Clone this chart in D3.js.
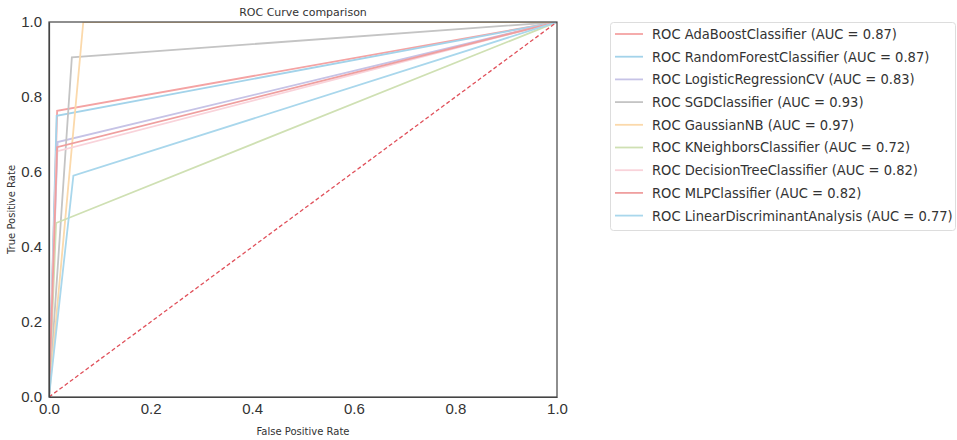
<!DOCTYPE html>
<html>
<head>
<meta charset="utf-8">
<script src="https://cdn.jsdelivr.net/npm/d3@7"></script>
<style>
  body { margin: 0; background: #fff; }
  svg { font-family: "DejaVu Sans", sans-serif; }
  .tick text { fill: #333; font-size: 15px; }
  .tick line { display: none; }
  .domain { stroke: #444; stroke-width: 1.2; }
</style>
</head>
<body>
<div id="chart"></div>
<script>
// model names, AUC values and the single ROC operating point of each model
var models = ['AdaBoostClassifier', 'RandomForestClassifier', 'LogisticRegressionCV', 'SGDClassifier',
              'GaussianNB', 'KNeighborsClassifier', 'DecisionTreeClassifier', 'MLPClassifier', 'LinearDiscriminantAnalysis'];
var auc = [0.87, 0.87, 0.83, 0.93, 0.97, 0.72, 0.82, 0.82, 0.77];
var fpr = [0.016, 0.015, 0.017, 0.045, 0.0675, 0.014, 0.015, 0.016, 0.048];
var tpr = [0.763, 0.75, 0.68, 0.906, 1.0, 0.464, 0.655, 0.666, 0.59];
var colors = ['#f4a3a3', '#a3d3ea', '#c6c3e6', '#c4c4c4', '#fbd9ab', '#cfe0b3', '#f9d3da', '#ef9f9f', '#a9d7ec'];
var ticks = [0, 0.2, 0.4, 0.6, 0.8, 1.0];

var W = 957, H = 440;
var m = {left: 49, right: 557, top: 22, bottom: 397};

var svg = d3.select('#chart').append('svg').attr('width', W).attr('height', H);

var x = d3.scaleLinear().domain([0, 1]).range([m.left, m.right]);
var y = d3.scaleLinear().domain([0, 1]).range([m.bottom, m.top]);

svg.append('defs').append('clipPath').attr('id', 'clip')
    .append('rect').attr('x', m.left).attr('y', m.top)
    .attr('width', m.right - m.left).attr('height', m.bottom - m.top);

var line = d3.line().x(d => x(d[0])).y(d => y(d[1]));
var plot = svg.append('g').attr('clip-path', 'url(#clip)');

models.forEach(function (name, i) {
    plot.append('path')
        .datum([[0, 0], [fpr[i], tpr[i]], [1, 1]])
        .attr('d', line)
        .attr('fill', 'none')
        .attr('stroke', colors[i])
        .attr('stroke-width', 1.8);
});

// chance diagonal
plot.append('path').datum([[0, 0], [1, 1]]).attr('d', line)
    .attr('fill', 'none').attr('stroke', '#e0505a').attr('stroke-width', 1.3)
    .attr('stroke-dasharray', '4,2.5');

// frame
svg.append('rect').attr('x', m.left).attr('y', m.top)
    .attr('width', m.right - m.left).attr('height', m.bottom - m.top)
    .attr('fill', 'none').attr('stroke', '#444').attr('stroke-width', 1.2);

svg.append('g').attr('transform', 'translate(0,' + m.bottom + ')')
    .call(d3.axisBottom(x).tickValues(ticks).tickFormat(d3.format('.1f')).tickSize(0).tickPadding(6));
svg.append('g').attr('transform', 'translate(' + m.left + ',0)')
    .call(d3.axisLeft(y).tickValues(ticks).tickFormat(d3.format('.1f')).tickSize(0).tickPadding(7));
svg.selectAll('.tick text').attr('fill', '#333');

svg.append('text').text('ROC Curve comparison').attr('x', (m.left + m.right) / 2).attr('y', 16)
    .attr('text-anchor', 'middle').attr('font-size', 11).attr('fill', '#333');
svg.append('text').text('False Positive Rate').attr('x', (m.left + m.right) / 2).attr('y', 435)
    .attr('text-anchor', 'middle').attr('font-size', 10).attr('fill', '#333');
svg.append('text').text('True Positive Rate')
    .attr('transform', 'translate(15,' + ((m.top + m.bottom) / 2) + ') rotate(-90)')
    .attr('text-anchor', 'middle').attr('font-size', 10).attr('fill', '#333');

// legend
var lg = svg.append('g').attr('class', 'legend');
lg.append('rect').attr('x', 610.5).attr('y', 22.5).attr('width', 345).attr('height', 208).attr('rx', 3)
    .attr('fill', '#fff').attr('stroke', '#ddd');
var labels = lg.append('g');
models.forEach(function (name, i) {
    var yy = 34 + i * 22.7;
    lg.append('line').attr('x1', 615).attr('x2', 643).attr('y1', yy).attr('y2', yy)
        .attr('stroke', colors[i]).attr('stroke-width', 1.8);
    labels.append('text').text('ROC ' + name + ' (AUC = ' + auc[i].toFixed(2) + ')')
        .attr('x', 0).attr('y', yy + 5).attr('font-size', 14).attr('fill', '#333');
});
// the reference text is narrower than DejaVu; squeeze so the longest label ends at ~953px
var widest = d3.max(labels.selectAll('text').nodes(), n => n.getComputedTextLength());
labels.attr('transform', 'translate(652,0) scale(' + (301 / widest) + ',1)');
</script>
</body>
</html>
